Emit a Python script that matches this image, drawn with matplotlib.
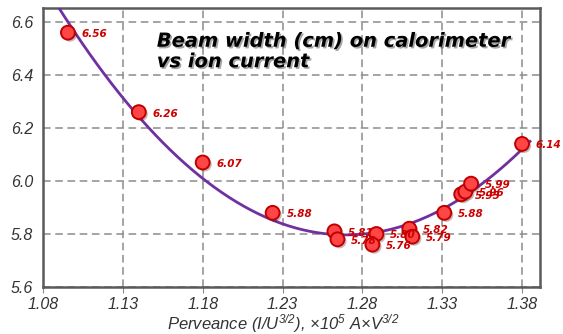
import matplotlib.pyplot as plt
import matplotlib.patheffects as pe
import numpy as np

plt.rcParams['font.family'] = ['Liberation Sans', 'DejaVu Sans']
plt.rcParams['mathtext.fontset'] = 'custom'
plt.rcParams['mathtext.rm'] = 'Liberation Sans:italic'
plt.rcParams['mathtext.it'] = 'Liberation Sans:italic'
plt.rcParams['mathtext.default'] = 'regular'

# perveance (x1e5 A*V^3/2) and beam width (cm)
perveance = [1.0956, 1.140, 1.180, 1.2238, 1.2625, 1.2644, 1.2888, 1.2863,
             1.3094, 1.3113, 1.3313, 1.3419, 1.3445, 1.3481, 1.3800]
width = [6.56, 6.26, 6.07, 5.88, 5.81, 5.78, 5.80, 5.76,
         5.82, 5.79, 5.88, 5.95, 5.96, 5.99, 6.14]
labels = ["6.56", "6.26", "6.07", "5.88", "5.81", "5.78", "5.80", "5.76",
          "5.82", "5.79", "5.88", "5.95", "5.96", "5.99", "6.14"]

xticks = [1.08, 1.13, 1.18, 1.23, 1.28, 1.33, 1.38]
yticks = [5.6, 5.8, 6.0, 6.2, 6.4, 6.6]

x = np.array(perveance)
y = np.array(width)

fig = plt.figure(figsize=(5.63, 3.34), dpi=100)
ax = fig.add_axes([0.0764, 0.1407, 0.8826, 0.8353])

ax.set_xlim(1.08, 1.3912)
ax.set_ylim(5.6, 6.653)
ax.set_xticks(xticks)
ax.set_yticks(yticks)
ax.set_xticklabels([f"{t:.2f}" for t in xticks])
ax.set_yticklabels([f"{t:.1f}" for t in yticks])
ax.grid(True, color='#8c8c8c', linestyle=(0, (5, 3)), linewidth=1.1)
ax.tick_params(axis='x', direction='out', length=4, color='#8c8c8c',
               labelsize=11.5, labelcolor='#333333', pad=3)
ax.tick_params(axis='y', length=0, labelsize=11.5, labelcolor='#333333',
               pad=7)
for lab in ax.get_xticklabels() + ax.get_yticklabels():
    lab.set_fontstyle('italic')
for s in ax.spines.values():
    s.set_color('#5a5a5a')
    s.set_linewidth(1.8)

# 2nd order trendline
coef = np.polyfit(x, y, 2)
xx = np.linspace(1.08, 1.385, 200)
ax.plot(xx, np.polyval(coef, xx), color='#7030a0', linewidth=2, zorder=3)

ax.plot(x, y, 'o', markersize=10, markerfacecolor='#ff4545',
        markeredgecolor='#c00000', markeredgewidth=1.4, zorder=4,
        path_effects=[pe.withSimplePatchShadow(offset=(1.5, -1.5),
                                               alpha=0.3)])

for xi, yi, t in zip(x, y, labels):
    ax.annotate(t, (xi, yi), textcoords='offset points', xytext=(10, -1),
                va='center', ha='left', fontsize=7.5, fontweight='bold',
                fontstyle='italic', color='#cc0000', zorder=5,
                family='DejaVu Sans')

ax.text(0.229, 0.915, "Beam width (cm) on calorimeter\nvs ion current",
        transform=ax.transAxes, fontsize=14, fontweight='bold',
        fontstyle='italic', va='top', ha='left', linespacing=1.1,
        family='DejaVu Sans',
        path_effects=[pe.withSimplePatchShadow(offset=(1.2, -1.2),
                                               alpha=0.35)])

ax.set_xlabel(r"Perveance ($I/U^{3/2}$), ×10$^5$ A×V$^{3/2}$",
              fontsize=12, fontstyle='italic', color='#333333')
ax.xaxis.set_label_coords(0.483, -0.13)
ax.xaxis.label.set_va('center')

fig.savefig("out.png", dpi=100)
